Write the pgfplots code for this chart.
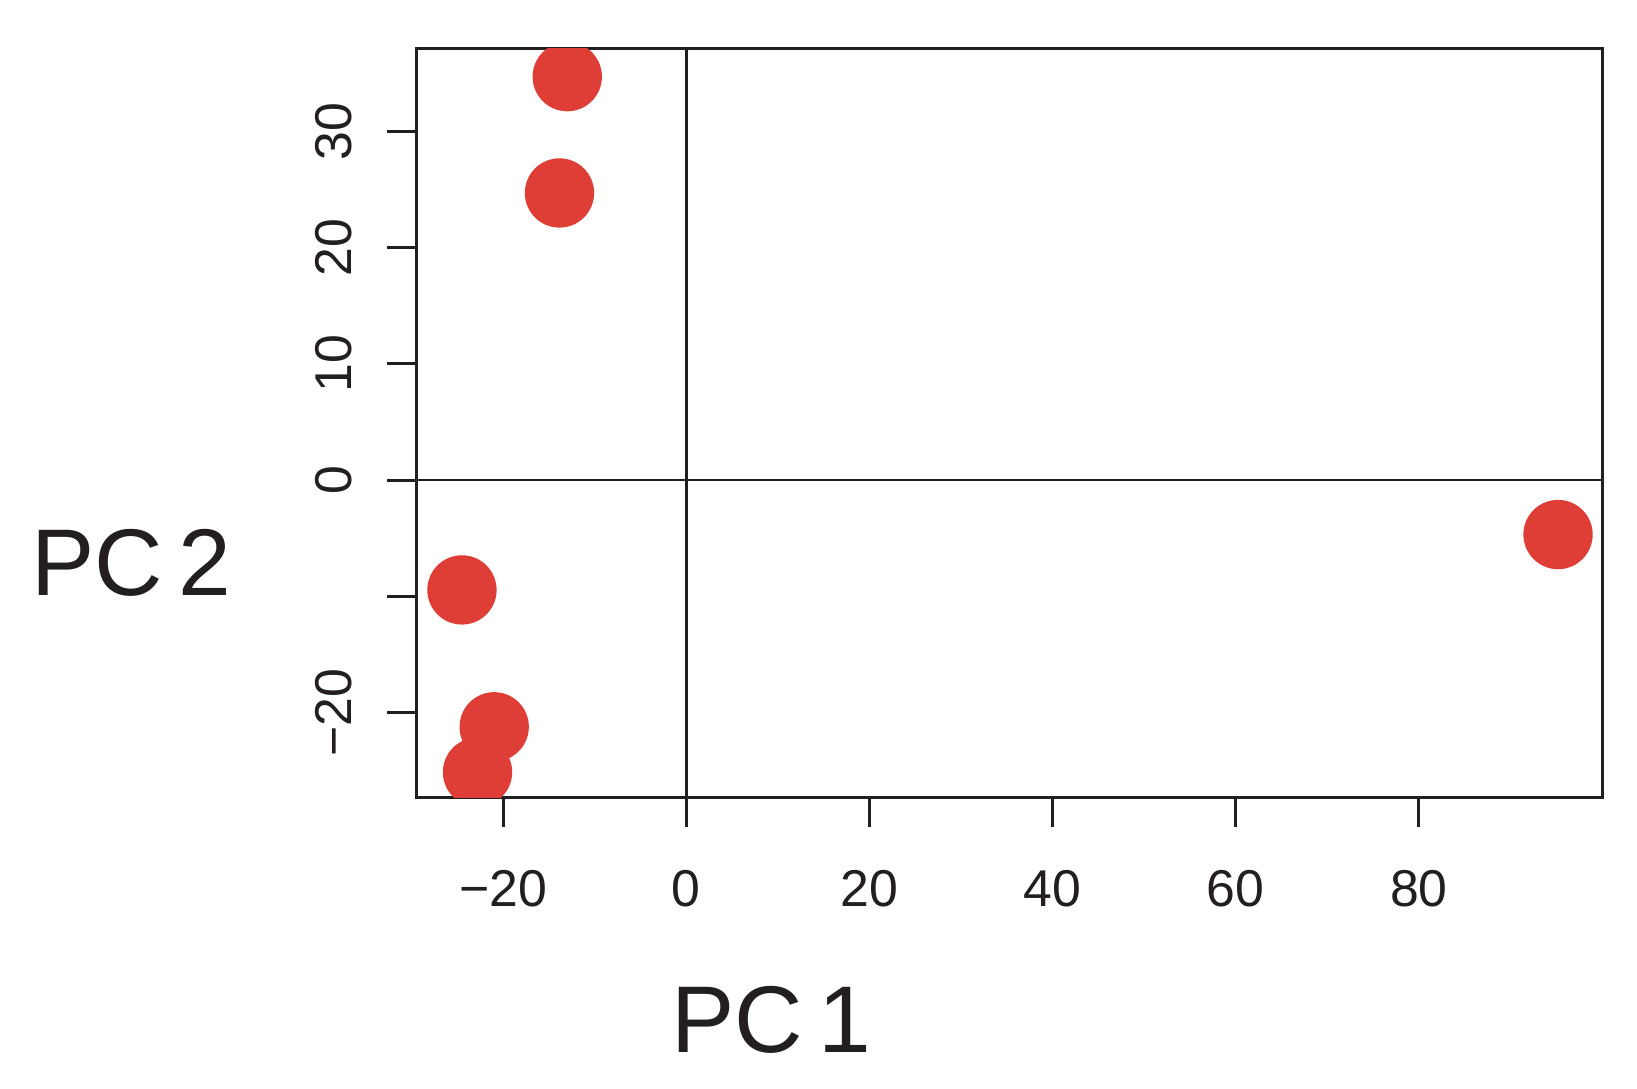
\documentclass[border=0pt]{standalone}
\usepackage{fontspec}
\setmainfont{Liberation Sans}
\usepackage{pgfplots}
\pgfplotsset{compat=1.18}
\definecolor{ptred}{RGB}{222,62,54}
\definecolor{axblack}{RGB}{35,31,32}
\begin{document}
\begin{tikzpicture}
\begin{axis}[
  scale only axis,
  width=284pt, height=179.5pt,
  xmin=-29.46, xmax=100.06,
  ymin=-27.29, ymax=37.16,
  axis line style={axblack, line width=0.72pt},
  every tick/.style={axblack, line width=0.72pt},
  tick align=outside,
  major tick length=7pt,
  xtick pos=bottom, ytick pos=left,
  xtick={-20,0,20,40,60,80},
  xticklabels={−20,0,20,40,60,80},
  ytick={-20,-10,0,10,20,30},
  yticklabels={−20,,0,10,20,30},
  ticklabel style={font=\fontsize{12.4}{14}\selectfont, text=axblack},
  xticklabel style={anchor=base, yshift=-19pt},
  yticklabel style={rotate=90, anchor=base, yshift=8.5pt},
  xlabel={PC\,1},
  ylabel={PC\,2},
  label style={font=\fontsize{22.7}{26}\selectfont, text=axblack},
  xlabel style={at={(rel axis cs:0.2993,-0.3398)}, anchor=base},
  ylabel style={at={(rel axis cs:-0.2403,0.2702)}, anchor=base, rotate=-90},
  clip marker paths=true,
]
\addplot[axblack, line width=0.6pt] coordinates {(0,-27.29) (0,37.16)};
\addplot[axblack, line width=0.6pt] coordinates {(-29.46,0) (100.06,0)};
\addplot[only marks, mark=*, mark size=8.1pt, mark options={draw=ptred, fill=ptred}] coordinates {
  (-13.0,34.7)
  (-13.85,24.7)
  (-24.5,-9.43)
  (-20.98,-21.2)
  (-22.8,-25.1)
  (95.2,-4.67)
};
\end{axis}
\pgfresetboundingbox
\path[use as bounding box] (current axis.south west) ++(-99.75pt,-69.75pt) rectangle ++(392pt,260.75pt);
\end{tikzpicture}
\end{document}
